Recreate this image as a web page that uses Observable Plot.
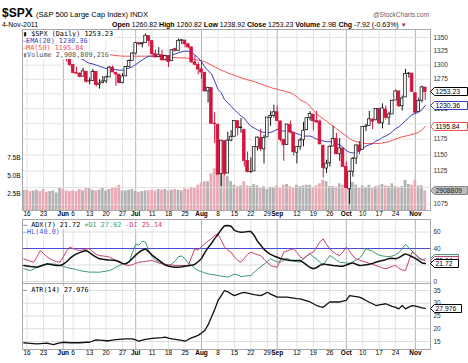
<!DOCTYPE html>
<html><head><meta charset="utf-8">
<script src="https://cdn.jsdelivr.net/npm/d3@7"></script>
<script src="https://cdn.jsdelivr.net/npm/@observablehq/plot@0.6"></script>
<style>
body{margin:0;background:#fff;}
#chart{position:relative;width:468px;height:363px;overflow:hidden;background:#fff;font-family:"Liberation Sans",Arial,sans-serif;}
#chart > svg{position:absolute;left:0;top:0;}
.t{position:absolute;white-space:nowrap;line-height:1;}
.lg{position:absolute;white-space:nowrap;line-height:1;background:#fff;font:6.8px "DejaVu Sans Mono",monospace;padding:0 1px 0 0;}
</style></head><body><div id="chart"></div>
<script>
// ---------- data ----------
const dates = ["05-13","05-16","05-17","05-18","05-19","05-20","05-23","05-24","05-25","05-26","05-27","05-31",
"06-01","06-02","06-03","06-06","06-07","06-08","06-09","06-10","06-13","06-14","06-15","06-16","06-17","06-20","06-21","06-22","06-23","06-24","06-27","06-28","06-29","06-30",
"07-01","07-05","07-06","07-07","07-08","07-11","07-12","07-13","07-14","07-15","07-18","07-19","07-20","07-21","07-22","07-25","07-26","07-27","07-28","07-29",
"08-01","08-02","08-03","08-04","08-05","08-08","08-09","08-10","08-11","08-12","08-15","08-16","08-17","08-18","08-19","08-22","08-23","08-24","08-25","08-26","08-29","08-30","08-31",
"09-01","09-02","09-06","09-07","09-08","09-09","09-12","09-13","09-14","09-15","09-16","09-19","09-20","09-21","09-22","09-23","09-26","09-27","09-28","09-29","09-30",
"10-03","10-04","10-05","10-06","10-07","10-10","10-11","10-12","10-13","10-14","10-17","10-18","10-19","10-20","10-21","10-24","10-25","10-26","10-27","10-28","10-31",
"11-01","11-02","11-03","11-04"];
const open = [1348.69,1334.77,1326.10,1328.54,1342.40,1342.00,1333.07,1317.70,1316.36,1320.64,1325.69,1331.10,
1345.20,1314.55,1312.94,1300.26,1286.31,1284.63,1279.63,1288.26,1271.31,1272.22,1287.87,1265.53,1268.58,1271.50,1278.40,1295.48,1286.60,1283.04,1268.44,1280.21,1296.85,1307.64,
1320.64,1339.59,1337.56,1339.62,1352.39,1343.31,1319.61,1314.45,1317.74,1308.87,1315.94,1307.07,1328.66,1325.65,1343.80,1344.32,1337.39,1331.91,1304.84,1300.12,
1292.59,1286.56,1254.25,1260.23,1200.28,1198.48,1120.23,1171.77,1121.30,1172.87,1178.86,1204.22,1192.89,1189.62,1140.47,1123.55,1124.36,1162.16,1176.69,1158.85,1177.91,1209.76,1213.00,
1219.12,1203.90,1173.97,1165.85,1197.98,1185.37,1153.50,1162.59,1173.32,1189.44,1209.21,1214.99,1204.50,1203.63,1164.55,1128.82,1136.91,1163.32,1175.39,1151.74,1159.93,
1131.21,1097.42,1124.03,1144.11,1165.03,1158.15,1194.60,1196.19,1206.96,1205.65,1224.47,1200.75,1223.46,1209.92,1215.39,1238.72,1254.19,1229.17,1243.97,1284.39,1284.96,
1251.00,1219.62,1238.25,1260.82];
const high = [1350.47,1343.33,1330.42,1341.82,1346.82,1342.00,1333.07,1323.72,1325.86,1328.51,1334.62,1345.20,
1345.20,1318.03,1312.94,1300.26,1296.22,1287.04,1294.54,1288.26,1277.04,1292.50,1287.87,1274.11,1279.82,1280.42,1297.62,1298.61,1286.60,1283.93,1284.91,1296.80,1309.21,1321.97,
1341.01,1340.89,1340.94,1356.48,1352.39,1343.31,1327.17,1331.48,1326.88,1317.70,1315.94,1328.14,1330.43,1347.00,1346.10,1344.32,1338.51,1331.91,1316.32,1304.16,
1307.38,1286.56,1261.20,1260.23,1218.11,1198.48,1172.88,1171.77,1186.29,1189.04,1204.49,1204.22,1208.47,1189.62,1154.54,1145.49,1162.35,1178.56,1190.68,1181.23,1210.28,1220.10,1230.71,
1229.29,1203.90,1173.97,1198.62,1204.40,1185.37,1162.52,1176.41,1202.38,1209.11,1220.06,1214.99,1220.39,1206.30,1164.55,1141.72,1164.19,1195.86,1184.71,1175.87,1159.93,
1138.99,1125.12,1146.07,1165.55,1171.40,1194.91,1199.24,1220.25,1207.46,1224.61,1224.47,1233.10,1229.64,1219.36,1239.03,1256.55,1254.19,1246.28,1292.66,1287.08,1284.96,
1251.00,1242.48,1263.21,1260.82];
const low = [1333.36,1327.32,1318.51,1326.59,1336.36,1330.67,1312.88,1313.87,1311.80,1314.41,1325.69,1331.10,
1313.71,1305.61,1297.90,1284.72,1284.74,1277.42,1279.63,1268.28,1265.64,1272.22,1261.90,1258.07,1267.40,1267.56,1278.40,1286.79,1262.87,1267.24,1267.53,1280.21,1296.85,1307.64,
1318.18,1334.30,1330.92,1339.62,1333.71,1316.42,1313.33,1314.45,1306.51,1307.35,1295.92,1307.07,1323.65,1325.65,1336.95,1331.09,1329.10,1303.49,1299.16,1282.86,
1274.73,1254.03,1234.56,1199.54,1168.09,1119.28,1101.54,1118.01,1121.30,1170.74,1178.86,1180.53,1184.36,1131.03,1122.05,1121.09,1124.36,1156.30,1155.47,1135.91,1177.91,1195.77,1209.35,
1203.85,1170.56,1140.13,1165.85,1183.34,1148.37,1136.07,1157.44,1162.73,1189.44,1204.46,1188.36,1201.29,1166.21,1114.22,1121.36,1131.07,1163.32,1150.40,1139.93,1131.34,
1098.92,1074.77,1115.68,1134.95,1150.26,1158.15,1187.30,1196.19,1190.58,1205.65,1198.55,1191.48,1206.31,1197.34,1215.39,1238.72,1226.79,1221.06,1243.97,1277.01,1253.16,
1215.42,1219.62,1234.81,1238.92];
const close = [1337.77,1329.47,1328.98,1340.68,1343.60,1333.27,1317.37,1316.28,1320.47,1325.69,1331.10,1345.20,
1314.55,1312.94,1300.16,1286.17,1284.94,1279.56,1289.00,1270.98,1271.83,1287.87,1265.42,1267.64,1271.50,1278.36,1295.52,1287.14,1283.50,1268.45,1280.10,1296.67,1307.41,1320.64,
1339.67,1337.88,1339.22,1353.22,1343.80,1319.49,1313.64,1317.72,1308.87,1316.14,1305.44,1326.73,1325.84,1343.80,1345.02,1337.43,1331.94,1304.89,1300.67,1292.28,
1286.94,1254.05,1260.34,1200.07,1199.38,1119.46,1172.53,1120.76,1172.64,1178.81,1204.49,1192.76,1193.89,1140.65,1123.53,1123.82,1162.35,1177.60,1159.27,1176.80,1210.08,1212.92,1218.89,
1204.42,1173.97,1165.24,1198.62,1185.90,1154.23,1162.27,1172.87,1188.68,1209.11,1216.01,1204.09,1202.09,1166.76,1129.56,1136.43,1162.95,1175.38,1151.06,1160.40,1131.42,
1099.23,1123.95,1144.03,1164.97,1155.46,1194.89,1195.54,1207.25,1203.66,1224.58,1200.86,1225.38,1209.88,1215.39,1238.25,1254.19,1229.05,1242.00,1284.59,1285.09,1253.30,
1218.28,1237.90,1261.15,1253.23];
// volume in billions
const volume = [3.0, 3.0,2.8,2.9,3.0,2.8, 3.1,2.7,2.8,2.9,2.6, 3.3,3.1,2.9,2.8, 2.9,2.8,3.1,2.9,3.3, 3.2,3.0,2.9,3.0,3.3,
2.9,3.1,3.3,3.4,3.7, 2.9,2.9,3.0,3.1,2.8, 2.7,2.8,2.9,2.9, 3.0,2.9,3.1,3.0,3.1, 2.9,3.0,3.1,3.0,2.9, 3.2,3.1,3.4,3.3,3.7,
4.0,4.2,4.2,5.3,6.0, 6.3,5.8,5.2,4.9,4.2, 3.7,3.5,3.6,4.2,3.6, 3.5,3.8,3.6,3.3,3.5, 3.1,3.4,3.4,3.6,3.3,
3.7,3.8,3.5,3.3, 3.7,3.5,3.6,3.7,3.7, 3.4,3.6,3.9,4.4,4.2, 3.5,3.5,3.4,3.9,3.7, 4.6,5.0,4.1,3.7,3.3,
3.6,3.4,3.7,3.3,3.5, 3.6,3.8,3.6,3.5,3.9, 3.5,3.4,3.5,4.4,3.8, 3.7,4.4,3.6,3.6,2.909];
const ema20 = [1338,1337,1336,1336,1336,1335,1333,1331,1329,1328,1328,1329,1327,1324,1320,1317,1314,1312,1310,1306,1303,1302,1300,1298,1296,1294,1293,1292,1292,1291,1291,1293,1295,1297,1301,1305,1309,1313,1316,1316,1316,1316,1316,1316,1317,1318,1320,1322,1324,1325,1325,1322,1318,1313,1306,1297,1290,1285,1272,1258,1252,1240,1235,1229,1223,1218,1213,1209,1202,1196,1193,1190,1187,1186,1185,1186,1188,1191,1189,1188,1189,1188,1186,1184,1182,1180,1180,1180,1178,1175,1174,1172,1171,1171,1170,1168,1166,1162,1157,1154,1153,1154,1156,1160,1164,1166,1168,1172,1174,1178,1180,1183,1187,1192,1195,1200,1205,1210,1215,1217,1219,1223,1230.36];
const ma50 = [1322,1323,1324,1325,1326,1327,1327,1328,1328,1328,1328,1328,1328,1327,1327,1326,1326,1325,1325,1324,1323,1322,1322,1321,1320,1319,1318.5,1318,1317,1316.5,1316,1316,1316,1316,1316,1316,1316,1316,1316,1316,1315.5,1315,1315,1314.5,1314,1314,1313.5,1313,1313,1313,1312,1311,1310,1309,1308,1306,1303,1300,1297,1294,1291,1289,1286,1284,1282,1280,1278,1276,1274,1273,1271,1269,1267,1265,1263,1261,1259,1258,1256,1255,1253,1252,1249,1245,1240,1237,1234,1229,1222,1216,1212,1208,1204,1200,1196,1192,1188,1184,1180,1176,1173,1171,1170,1169,1168,1168,1168,1168,1168,1169,1170,1171,1173,1175,1177,1179,1180,1181,1183,1184,1186,1190,1195.84];
const adx = [19.4,18.8,18.2,17.8,17.4,18.5,20,21.4,21,20,19.5,19.4,21,24,28,31,33.5,35,36.5,37.6,35,32,29.5,27.5,27,26.5,26,25.8,25.5,24,22,21.4,24,28,32,35.5,38,39.6,36,32,29,26,23,20,18.5,17.8,17.4,17.4,17.8,18.5,19.2,19.6,21,24,28,35,41,46,52,57,63,67.5,68,67,62,60.5,59.8,60,60.5,60.6,56,49,44,39,35.6,33,31,29.5,28,27,26,25.5,25.5,25.5,25.5,23,20,17,15.4,17,19.5,21.4,20.5,20,19.4,19,18.6,18.6,20,21.5,22.6,21,19.4,19.6,20.2,21,22,23.4,24.5,25.5,26.5,28,28.3,27.5,29,31.5,33.5,32,30,28,25.5,22.5,21.72];
const plusDI = [15.4,14.5,13.3,15,17.5,19.4,20,20.5,21,21.4,20.5,19.4,18.5,17,16,15.4,14.5,13.3,12.5,12,11.3,11.5,11.3,11.3,12,12.5,13.3,15,17.5,19.4,21,22,23.4,35,45,44,49,47.7,37,30,26,24,22,20,19.4,21,25,30,31,27.5,22,19.4,16,13.3,12,10.5,9.3,8.5,8,7.3,6.5,6,5.3,7,9,8,6,6.5,7,7.3,11,15,18,21,24,27.5,25.5,24,23.4,26,28.3,26,24.5,24,23.4,28,31,33.5,30,27.5,23,19.4,26,31.5,29,26,23.4,23,22.5,22,24,26,28,33,40,38,37,34,32,31,30.5,30,31,32.5,35,40,45,41,37,33,28,26,27.92];
const minusDI = [27.5,26,24.5,23.4,30,37.6,34,30,27.5,25.5,24,23.4,30,37,41.6,40,38.5,37.6,38.5,39.5,39.6,36,33,31.5,31,30.5,29.5,27.5,25.5,23.4,21.5,20,19.4,20.5,22,23.4,24,24.5,25,25.5,24,22.5,21.4,21,20.5,20,19.4,19.4,19.4,19.4,19.4,30,39.6,38,42,45.7,49,52,55.8,57.8,50,42,38,35.6,29.5,26,23.4,28,33,35.6,34,32.5,31.5,27,23,19.4,18,17.4,26,35.6,37,38.5,39.6,35,30,27.5,31,34,35.6,42,48,51.7,45,39.6,36,33,31.5,36,41.6,37,31,27.5,26,24.5,23.4,22,21,19.4,18,16.5,15.4,17,18.5,19.4,16,14,13.3,25,35.6,33,29.5,27,25.14];
const atr = [14.5,14.4,14.3,14.2,14.1,14.2,14.3,14.4,14.1,13.8,14.2,14.5,14.7,14.6,14.5,14.5,14.5,14.5,14.6,14.7,14.7,15.2,15.6,15.5,15.4,15.3,15.3,15.5,15.7,15.8,15.9,16,16,16,15.6,15.1,15.5,15.8,16,16.2,16.3,16.4,16.5,16.7,16.3,16,15.8,15.6,15.4,15.1,15.8,16.4,16.9,17.4,18.3,19.3,21.5,24.5,27.5,31,33,35,34.5,33.7,33,33.5,34,34.3,34,33.7,33.4,33.2,33,33.6,34.3,33.6,33,32.4,32.4,32.4,32.4,32.2,32,31.8,31.7,31.3,30.9,30.5,29.8,29.1,28.7,28.4,29.5,30.5,30.5,30.5,30.5,30.8,31.1,33,32.8,32.6,32.4,31.8,31.1,30.4,29.8,29.1,29.4,29.6,29.8,29.3,28.8,28.4,27.8,29.1,27.8,28.5,29.1,28.9,28.6,28.2,27.976];
const tickDates = ["05-16","05-23","06-01","06-06","06-13","06-20","06-27","07-01","07-11","07-18","07-25","08-01","08-08","08-15","08-22","08-29","09-01","09-12","09-19","09-26","10-03","10-10","10-17","10-24","11-01"];
const tickLabels = ["16","23","Jun","6","13","20","27","Jul","11","18","25","Aug","8","15","22","29","Sep","12","19","26","Oct","10","17","24","Nov"];
// price labels visible on the right axis (1250, 1200, 1100 sit under the value boxes)
const priceTicks = [1350,1325,1300,1275,1225,1175,1150,1125,1075];
const priceGrid = [1350,1325,1300,1275,1250,1225,1200,1175,1150,1125,1100,1075];
const volTicks = [2.5,5.0,7.5];
const adxTicks = [0,20,40,60];
const atrTicks = [15,20,25,30,35];

// ---------- build ----------
const rows = dates.map((d,k)=>({i:k-1,o:open[k],h:high[k],l:low[k],c:close[k],v:volume[k],ema:ema20[k],ma:ma50[k],adx:adx[k],pdi:plusDI[k],mdi:minusDI[k],atr:atr[k],down:k>0&&close[k]<close[k-1]}));
const ticks = tickDates.map((d,j)=>({i:dates.indexOf(d)-1,label:tickLabels[j],month:isNaN(+tickLabels[j])}));
const RED="#d4143c", DARK="#1a1a1a";
const W=468,H=363,ML=22,MR=38;
const X={type:"linear",domain:[-1.4,122.6],axis:null};
const base={width:W,height:H,marginLeft:ML,marginRight:MR,x:X,style:{background:"transparent",fontFamily:"'Liberation Sans',Arial,sans-serif",fontSize:"6.5px",overflow:"visible"}};
const vgrid=[Plot.ruleX(ticks.filter(t=>!t.month),{x:"i",stroke:"#e4e4e4",strokeWidth:1}),Plot.ruleX(ticks.filter(t=>t.month),{x:"i",stroke:"#b4b4b4",strokeWidth:1})];
const frame=Plot.frame({stroke:"#a8a8a8"});

function boxes(items){
  return (index,scales,values,dims)=>{
    const g=d3.create("svg:g");
    const x0=dims.width-dims.marginRight;
    for(const it of items){
      const y=Math.round(scales.y(it.v))+0.5, w=it.w||33, h=8;
      g.append("path").attr("d",`M${x0+0.5},${y}L${x0+4.5},${y-h/2}L${x0+4.5+w},${y-h/2}L${x0+4.5+w},${y+h/2}L${x0+4.5},${y+h/2}Z`)
       .attr("fill",it.fill||"#fff").attr("stroke",it.stroke).attr("stroke-width",1);
      g.append("text").attr("x",x0+5.5).attr("y",y).attr("dy","0.35em").attr("fill",it.color||"#000")
       .attr("font-size","6.8px").attr("text-anchor","start").text(it.text);
    }
    return g.node();
  };
}

const chart=document.getElementById("chart");
chart.append(Plot.plot({...base,marginTop:29,marginBottom:H-210,
  y:{domain:[0.14,25.63],axis:null},
  marks:[...vgrid,
    Plot.rectY(rows,{x1:d=>d.i-0.42,x2:d=>d.i+0.42,y1:0,y2:"v",fill:d=>d.down?"#eba9b4":"#b2b2b2",clip:true}),
    Plot.text(volTicks,{y:d=>d,text:d=>d.toFixed(1)+"B",frameAnchor:"left",textAnchor:"end",dx:-2}),
    Plot.text(ticks.filter(t=>!t.month),{x:"i",text:"label",frameAnchor:"bottom",dy:5}),
    Plot.text(ticks.filter(t=>t.month),{x:"i",text:"label",frameAnchor:"bottom",dy:5,fontWeight:"bold"}),
  ]}));
chart.append(Plot.plot({...base,marginTop:29,marginBottom:H-210,
  y:{type:"log",domain:[1066,1364.8],axis:null},
  marks:[
    Plot.ruleY(priceGrid,{y:d=>d,stroke:"#dddddd",strokeOpacity:0.8}),
    Plot.line(rows,{x:"i",y:"ma",stroke:"#f25050",strokeWidth:1,clip:true}),
    Plot.line(rows,{x:"i",y:"ema",stroke:"#3c3cbc",strokeWidth:1,clip:true}),
    Plot.ruleX(rows,{x:"i",y1:"l",y2:"h",stroke:d=>d.down?RED:DARK,strokeWidth:1,clip:true}),
    Plot.rect(rows,{x1:d=>d.i-0.4,x2:d=>d.i+0.4,y1:d=>Math.min(d.o,d.c),y2:d=>Math.max(d.o,d.c),
      fill:d=>d.c<d.o?(d.down?RED:DARK):"#fff",stroke:d=>d.down?RED:DARK,strokeWidth:0.8,clip:true}),
    frame,
    Plot.text(priceTicks,{y:d=>d,text:d=>String(d),frameAnchor:"right",textAnchor:"start",dx:3,fill:"#333"}),
    boxes([{v:1195.84,text:"1195.84",stroke:"#f25050"},{v:1230.36,text:"1230.36",stroke:"#3c3cbc"},{v:1253.23,text:"1253.23",stroke:"#000"}]),
  ]}));
chart.append(Plot.plot({...base,marginTop:29,marginBottom:H-210,
  y:{domain:[0.14,25.63],axis:null},
  marks:[boxes([{v:2.908809,text:"2908809",stroke:"#888",fill:"#bdbdbd",color:"#222"}])]}));
chart.append(Plot.plot({...base,marginTop:219,marginBottom:H-283,
  y:{domain:[-2.4,75.2],axis:null},
  marks:[...vgrid,
    Plot.ruleY(adxTicks,{y:d=>d,stroke:"#dddddd"}),
    Plot.ruleY([40],{y:d=>d,stroke:"#4a4ad2",strokeWidth:1}),
    Plot.line(rows,{x:"i",y:"pdi",stroke:"#3d9a6c",strokeWidth:1,clip:true}),
    Plot.line(rows,{x:"i",y:"mdi",stroke:"#c8406c",strokeWidth:1,clip:true}),
    Plot.line(rows,{x:"i",y:"adx",stroke:"#111",strokeWidth:1.5,clip:true}),
    frame,
    Plot.text(adxTicks,{y:d=>d,text:d=>String(d),frameAnchor:"right",textAnchor:"start",dx:3,fill:"#333"}),
    boxes([{v:27.92,text:"27.92",stroke:"#3d9a6c",w:24},{v:25.14,text:"25.14",stroke:"#c8406c",w:24},{v:21.72,text:"21.72",stroke:"#000",w:24}]),
  ]}));
chart.append(Plot.plot({...base,marginTop:283,marginBottom:H-349,
  y:{domain:[11.86,37.75],axis:null},
  marks:[...vgrid,
    Plot.ruleY(atrTicks,{y:d=>d,stroke:"#dddddd"}),
    Plot.line(rows,{x:"i",y:"atr",stroke:"#111",strokeWidth:1.3,clip:true}),
    frame,
    Plot.text(atrTicks,{y:d=>d,text:d=>String(d),frameAnchor:"right",textAnchor:"start",dx:3,fill:"#333"}),
    boxes([{v:27.976,text:"27.976",stroke:"#000",w:27}]),
    Plot.text(ticks.filter(t=>!t.month),{x:"i",text:"label",frameAnchor:"bottom",dy:5}),
    Plot.text(ticks.filter(t=>t.month),{x:"i",text:"label",frameAnchor:"bottom",dy:5,fontWeight:"bold"}),
  ]}));

function add(html,cls,style){const d=document.createElement("div");d.className=cls;d.setAttribute("style",style);d.innerHTML=html;chart.appendChild(d);}
add('<b style="font-size:12px">$SPX</b> <span style="font-size:7.5px">(S&amp;P 500 Large Cap Index) INDX</span>',"t","left:2px;top:7px;font-size:12px;");
add('4-Nov-2011',"t","left:2px;top:21px;font-size:7px;");
add('<b>Open</b> 1260.82 <b>High</b> 1260.82 <b>Low</b> 1238.92 <b>Close</b> 1253.23 <b>Volume</b> 2.9B <b>Chg</b> -7.92 (-0.63%) <span style="color:#d4143c;font-size:6px">&#9660;</span>',"t","left:112px;top:21px;font-size:7px;");
add('@StockCharts.com',"t","left:373px;top:12px;font-size:6.5px;color:#666;");
add('<span style="color:#000">&#9646;</span> $SPX (Daily) 1253.23',"lg","left:23px;top:30px;color:#000;");
add('<span style="letter-spacing:-1px">&#8212;</span>EMA(20) 1230.36',"lg","left:23px;top:37px;color:#3c3cbc;");
add('<span style="letter-spacing:-1px">&#8212;</span>MA(50) 1195.84',"lg","left:23px;top:44px;color:#f25050;");
add('<span style="color:#777">&#9646;</span>Volume 2,908,809,216',"lg","left:23px;top:51px;color:#555;");
add('&#8212; ADX(7) 21.72 <span style="color:#3d9a6c">+DI 27.92</span> <span style="color:#c8406c">-DI 25.14</span>',"lg","left:23px;top:221px;color:#000;");
add('<span style="color:#4a4ad2">&#8212;HL(40.0)</span>',"lg","left:23px;top:228px;");
add('&#8212; ATR(14) 27.976',"lg","left:23px;top:286px;color:#000;");
</script></body></html>
